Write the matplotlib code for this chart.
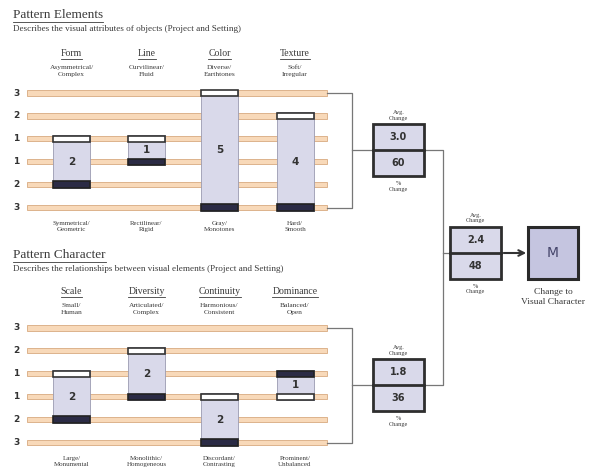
import matplotlib.pyplot as plt
from matplotlib.patches import Rectangle

# data: position of existing (white cap) and proposed (dark cap) on the 6-step scale
row_labels = ['3', '2', '1', '1', '2', '3']

elem_names = ['Form', 'Line', 'Color', 'Texture']
elem_top = ['Asymmetrical/\nComplex', 'Curvilinear/\nFluid', 'Diverse/\nEarthtones', 'Soft/\nIrregular']
elem_bottom = ['Symmetrical/\nGeometric', 'Rectilinear/\nRigid', 'Gray/\nMonotones', 'Hard/\nSmooth']
elem_white = [2, 2, 0, 1]
elem_dark = [4, 3, 5, 5]

char_names = ['Scale', 'Diversity', 'Continuity', 'Dominance']
char_top = ['Small/\nHuman', 'Articulated/\nComplex', 'Harmonious/\nConsistent', 'Balanced/\nOpen']
char_bottom = ['Large/\nMonumental', 'Monolithic/\nHomogeneous', 'Discordant/\nContrasting', 'Prominent/\nUnbalanced']
char_white = [2, 1, 3, 3]
char_dark = [4, 3, 5, 2]

max_steps = 5

col_x = [71.5, 146.5, 219.5, 295]
col_w = 37
row_step = 22.9
serif = 'Liberation Serif'
txt = '#3a3a3a'

fig = plt.figure(figsize=(5.97, 4.75), dpi=100)
ax = fig.add_axes([0, 0, 1, 1])
ax.set_xlim(0, 597)
ax.set_ylim(475, 0)
ax.axis('off')
renderer = fig.canvas.get_renderer()


def underlined(x, y, s, size, ha='left'):
    t = ax.text(x, y, s, fontsize=size, family=serif, color=txt, ha=ha, va='center')
    bb = t.get_window_extent(renderer).transformed(ax.transData.inverted())
    ax.plot([bb.x0, bb.x1], [bb.y0 + 0.5, bb.y0 + 0.5], color=txt, lw=0.6)


def avg_box(x0, y0, avg, pct):
    w, h = 51, 52
    ax.add_patch(Rectangle((x0, y0), w, h, facecolor='#d9d9ea', edgecolor='#2e2e2e', lw=2, zorder=4))
    ax.plot([x0, x0 + w], [y0 + h / 2, y0 + h / 2], color='#2e2e2e', lw=2, zorder=5)
    ax.text(x0 + w / 2, y0 + h / 4, f'{avg:.1f}', ha='center', va='center', fontsize=7,
            weight='bold', color='#333', zorder=6)
    ax.text(x0 + w / 2, y0 + 3 * h / 4, f'{pct:.0f}', ha='center', va='center', fontsize=7,
            weight='bold', color='#333', zorder=6)
    ax.text(x0 + w / 2, y0 - 9, 'Avg.\nChange', ha='center', va='center', fontsize=4.5,
            family=serif, color=txt, linespacing=1.2)
    ax.text(x0 + w / 2, y0 + h + 10, '%\nChange', ha='center', va='center', fontsize=4.5,
            family=serif, color=txt, linespacing=1.2)


def section(title, subtitle, title_y, head_y, row0, names, tops, bottoms, white, dark):
    underlined(13, title_y, title, 9.5)
    ax.text(13, title_y + 14, subtitle, fontsize=6.6, family=serif, color=txt, va='center')
    rows = [row0 + i * row_step for i in range(len(row_labels))]
    for lab, y in zip(row_labels, rows):
        ax.text(16, y, lab, fontsize=6.5, weight='bold', color='#333', ha='center', va='center')
        ax.add_patch(Rectangle((27, y - 2.6), 300, 5.2, facecolor='#f8d9b9', edgecolor='#d8aa80',
                               lw=0.6, zorder=1))
    changes = []
    for cx, n, tp, bt, w, d in zip(col_x, names, tops, bottoms, white, dark):
        underlined(cx, head_y, n, 7, ha='center')
        ax.text(cx, head_y + 17, tp, fontsize=5.3, family=serif, color=txt, ha='center',
                va='center', linespacing=1.35)
        ax.text(cx, rows[-1] + 19, bt, fontsize=5, family=serif, color=txt, ha='center',
                va='center', linespacing=1.3)
        y0 = rows[min(w, d)] - 3.5
        y1 = rows[max(w, d)] + 3.5
        ax.add_patch(Rectangle((cx - col_w / 2, y0), col_w, y1 - y0, facecolor='#d9d9ea',
                               edgecolor='#9a9ab0', lw=0.6, zorder=2))
        ax.add_patch(Rectangle((cx - col_w / 2, rows[w] - 3.2), col_w, 6.4, facecolor='white',
                               edgecolor='#333', lw=1.2, zorder=3))
        ax.add_patch(Rectangle((cx - col_w / 2, rows[d] - 3.2), col_w, 6.4, facecolor='#2b2b45',
                               edgecolor='#222', lw=1.2, zorder=3))
        ch = abs(d - w)
        changes.append(ch)
        ax.text(cx, (y0 + y1) / 2, str(ch), ha='center', va='center', fontsize=7.5,
                weight='bold', color='#333', zorder=4)
    # bracket to the summary box
    bx = 352
    ax.plot([327, bx, bx, 327], [rows[0], rows[0], rows[-1], rows[-1]], color='#777', lw=0.9)
    mid = (rows[0] + rows[-1]) / 2
    ax.plot([bx, 373], [mid, mid], color='#777', lw=0.9)
    avg = sum(changes) / len(changes)
    avg = round(avg + 1e-9, 1)
    avg_box(373, mid - 26, avg, avg / max_steps * 100)
    return avg, mid


a1, m1 = section('Pattern Elements', 'Describes the visual attributes of objects (Project and Setting)',
                 15, 54, 93, elem_names, elem_top, elem_bottom, elem_white, elem_dark)
a2, m2 = section('Pattern Character',
                 'Describes the relationships between visual elements (Project and Setting)',
                 255, 292, 328, char_names, char_top, char_bottom, char_white, char_dark)

# overall
vx = 443
ax.plot([424, vx, vx, 424], [m1, m1, m2, m2], color='#777', lw=0.9)
mid = 253
ax.plot([vx, 450], [mid, mid], color='#777', lw=0.9)
overall = (a1 + a2) / 2
avg_box(450, mid - 26, overall, overall / max_steps * 100)
ax.annotate('', xy=(529, mid), xytext=(501, mid),
            arrowprops=dict(arrowstyle='->', color='#333', lw=1.5))
ax.add_patch(Rectangle((528, mid - 26), 50, 52, facecolor='#c5c5e0', edgecolor='#2a2a2a', lw=2.2))
ax.text(553, mid, 'M', ha='center', va='center', fontsize=10, color='#44446a')
ax.text(553, mid + 44, 'Change to\nVisual Character', ha='center', va='center', fontsize=6.8,
        family=serif, color=txt, linespacing=1.2)

plt.savefig('out.png', dpi=100)
